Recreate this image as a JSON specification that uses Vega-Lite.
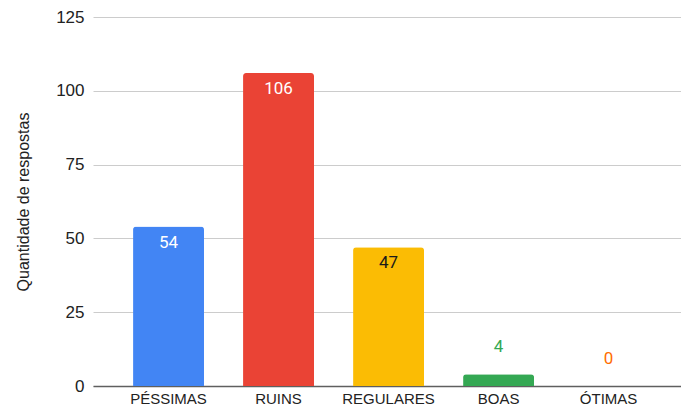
{
  "$schema": "https://vega.github.io/schema/vega-lite/v6.json",
  "width": 588,
  "height": 369,
  "autosize": {"type": "none"},
  "padding": {"left": 93, "top": 17, "right": 0, "bottom": 21},
  "background": "#ffffff",
  "config": {
    "view": {"stroke": null},
    "axis": {"labelFont": "Liberation Sans", "titleFont": "Liberation Sans"}
  },
  "data": {
    "values": [
      {"categoria": "PÉSSIMAS", "respostas": 54},
      {"categoria": "RUINS", "respostas": 106},
      {"categoria": "REGULARES", "respostas": 47},
      {"categoria": "BOAS", "respostas": 4},
      {"categoria": "ÓTIMAS", "respostas": 0}
    ]
  },
  "encoding": {
    "x": {
      "field": "categoria",
      "type": "nominal",
      "sort": null,
      "scale": {"paddingInner": 0.355, "paddingOuter": 0.35, "align": 0.52},
      "axis": {
        "title": null,
        "labelAngle": 0,
        "labelFontSize": 15,
        "labelColor": "#222222",
        "labelPadding": 5,
        "ticks": false,
        "domainColor": "#5f5f5f",
        "domainWidth": 1.5,
        "grid": false
      }
    },
    "y": {
      "field": "respostas",
      "type": "quantitative",
      "scale": {"domain": [0, 125], "nice": false},
      "axis": {
        "title": "Quantidade de respostas",
        "titleFontSize": 16,
        "titleFontWeight": "normal",
        "titleColor": "#222222",
        "titlePadding": 24,
        "values": [0, 25, 50, 75, 100, 125],
        "labelFontSize": 17,
        "labelColor": "#222222",
        "labelPadding": 9,
        "ticks": false,
        "domain": false,
        "gridColor": "#cccccc",
        "gridWidth": 1
      }
    }
  },
  "layer": [
    {
      "mark": {"type": "bar", "cornerRadiusTopLeft": 3, "cornerRadiusTopRight": 3},
      "encoding": {
        "color": {
          "field": "categoria",
          "type": "nominal",
          "sort": null,
          "scale": {
            "domain": ["PÉSSIMAS", "RUINS", "REGULARES", "BOAS", "ÓTIMAS"],
            "range": ["#4285F4", "#EA4335", "#FBBC04", "#34A853", "#FF6D01"]
          },
          "legend": null
        }
      }
    },
    {
      "transform": [{"filter": "datum.respostas >= 20"}],
      "mark": {"type": "text", "font": "Roboto", "fontSize": 17, "baseline": "middle", "dy": 16},
      "encoding": {
        "text": {"field": "respostas", "type": "quantitative"},
        "color": {
          "condition": {"test": "datum.categoria === 'REGULARES'", "value": "#1a1a1a"},
          "value": "#ffffff"
        }
      }
    },
    {
      "transform": [{"filter": "datum.respostas < 20"}],
      "mark": {"type": "text", "font": "Roboto", "fontSize": 17, "baseline": "middle", "dy": -27},
      "encoding": {
        "text": {"field": "respostas", "type": "quantitative"},
        "color": {"field": "categoria", "type": "nominal", "sort": null, "legend": null}
      }
    }
  ]
}
